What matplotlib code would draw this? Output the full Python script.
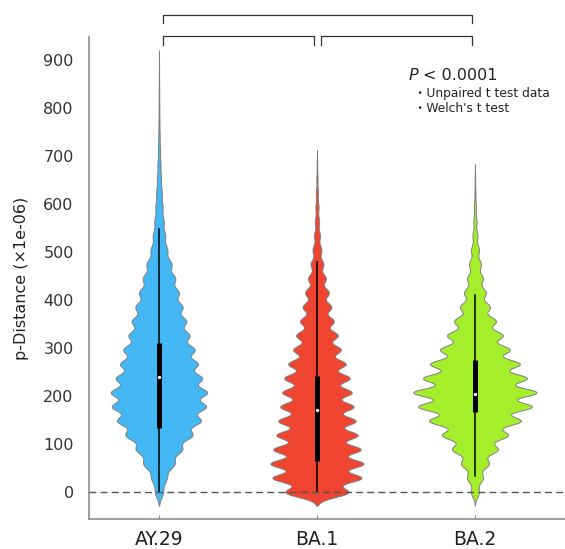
import numpy as np
import matplotlib.pyplot as plt

# p-distance of one site difference, in units of 1e-06
STEP = 1e6 / 33700

categories = ['AY.29', 'BA.1', 'BA.2']

# relative frequency at 0, 1, 2, ... differences
ay29_counts = [4, 7.5, 15, 22, 32, 40, 45, 46, 41, 37, 34, 29, 26, 22.5, 19, 15.5,
               12, 8, 6, 4.5, 3.5, 2.8, 2, 1.5, 1, 0.7, 0.5, 0.35, 0.25, 0.15, 0.1]
ba1_counts = [32, 45, 47, 44, 41, 39, 37, 35, 33, 29, 24, 21, 17, 14.5, 12, 9,
              6.5, 4.5, 3, 2.2, 1.6, 1.0, 0.6, 0.3]
ba2_counts = [4, 8, 14, 23, 33, 46, 57, 62, 52, 45, 35, 28, 21, 15, 11, 8,
              6, 4, 2.5, 1.6, 1.0, 0.5, 0.25]
all_counts = [ay29_counts, ba1_counts, ba2_counts]
bandwidths = [12, 10.3, 10.5]

# box statistics
q1 = [133, 65, 167]
medians = [240, 171, 204]
q3 = [311, 242, 276]
whisker_lo = [0, 0, 33]
whisker_hi = [548, 480, 410]

colors = ['#44B8F4', '#F04530', '#A4EE2C']

fig = plt.figure(figsize=(5.65, 5.49), dpi=100)
ax = fig.add_axes([0.1575, 0.0546, 0.8425, 0.878])

positions = np.arange(1, len(categories) + 1)

# kernel density of each discrete distribution
densities = []
grids = []
for counts, bw in zip(all_counts, bandwidths):
    vals = np.arange(len(counts)) * STEP
    y = np.linspace(-28, vals[-1] + 30, 1200)
    dens = np.zeros_like(y)
    for v, c in zip(vals, counts):
        dens += c * np.exp(-0.5 * ((y - v) / bw) ** 2)
    densities.append(dens)
    grids.append(y)

scale = 0.39 / max(d.max() for d in densities)

for pos, y, dens, col in zip(positions, grids, densities, colors):
    w = dens * scale
    ax.fill_betweenx(y, pos - w, pos + w, facecolor=col, edgecolor='#7f7f7f', linewidth=0.7, zorder=2)

for i, pos in enumerate(positions):
    ax.plot([pos, pos], [whisker_lo[i], whisker_hi[i]], color='black', lw=1.1, zorder=3)
    ax.plot([pos, pos], [q1[i], q3[i]], color='black', lw=3.6, solid_capstyle='butt', zorder=4)
    ax.plot(pos, medians[i], 'o', color='white', markersize=2.4, markeredgewidth=0, zorder=5)

ax.axhline(0, color='#555555', lw=1.0, linestyle=(0, (5, 3)), zorder=6)

# significance brackets
def bracket(x1, x2, y, drop):
    ax.plot([x1, x1, x2, x2], [y - drop, y, y, y - drop], color='#333333', lw=0.9, clip_on=False)

bracket(1.025, 1.98, 950, 19)
bracket(2.025, 2.98, 950, 19)
bracket(1.025, 2.98, 994, 17)

ax.text(2.582, 867, 'P', style='italic', fontsize=11.5, color='#222222', va='center', ha='left')
ax.text(2.67, 867, '< 0.0001', fontsize=11.5, color='#222222', va='center', ha='left')
ax.text(2.615, 831, '・Unpaired t test data', fontsize=8.8, color='#222222', va='center', ha='left',
        family=['DejaVu Sans', 'Noto Sans CJK JP'])
ax.text(2.615, 800, "・Welch's t test", fontsize=8.8, color='#222222', va='center', ha='left',
        family=['DejaVu Sans', 'Noto Sans CJK JP'])

ax.set_xlim(0.557, 3.57)
ax.set_ylim(-56, 948)
ax.set_xticks(positions)
ax.set_xticklabels(categories, fontsize=13.5, color='#222222')
ax.set_yticks(np.arange(0, 901, 100))
ax.tick_params(axis='y', length=0, pad=11, labelsize=11.5, labelcolor='#333333')
ax.tick_params(axis='x', direction='in', length=3, color='#888888', pad=8)
ax.set_ylabel('p-Distance (×1e-06)', fontsize=11.5, color='#222222', labelpad=10)

for s in ['top', 'right']:
    ax.spines[s].set_visible(False)
for s in ['left', 'bottom']:
    ax.spines[s].set_color('#8c8c8c')
    ax.spines[s].set_linewidth(1.2)

fig.savefig('out.png', dpi=100)
